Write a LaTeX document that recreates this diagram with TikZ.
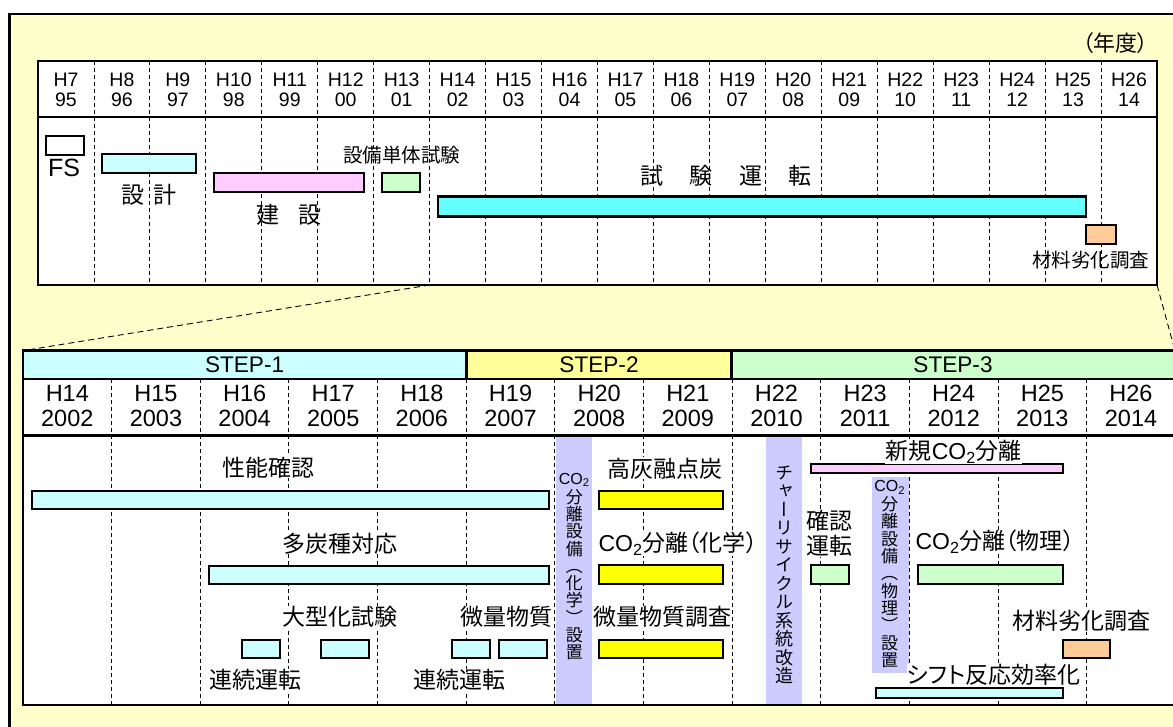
\documentclass[tikz,border=0pt]{standalone}
\usepackage{fontspec}
\setmainfont{Liberation Sans}
\newfontfamily\jp[RawFeature=+palt]{Noto Sans CJK JP}
\newfontfamily\jpv[RawFeature=+vert]{Noto Sans CJK JP}
\usepackage{tikz}
\usetikzlibrary{positioning}
\usepackage{xcolor}
\definecolor{bgyellow}{HTML}{FFFFCC}
\definecolor{cyanlight}{HTML}{CCFFFF}
\definecolor{cyanmid}{HTML}{66FFFF}
\definecolor{pinklight}{HTML}{FFCCFF}
\definecolor{greenlight}{HTML}{CCFFCC}
\definecolor{orangelight}{HTML}{FFCC99}
\definecolor{steptwo}{HTML}{FFFF99}
\definecolor{yellowbar}{HTML}{FFFF00}
\definecolor{bandpurple}{HTML}{CCCCFF}
\newcommand{\COtwo}{{\rmfamily CO\textsubscript{2}}}
\lineskiplimit=-10pt

\begin{document}
\begin{tikzpicture}[x=1pt,y=-1pt,
	frame/.style={line width=2.6pt},
	grid/.style={line width=0.9pt,dash pattern=on 4pt off 3pt},
	zoomline/.style={line width=0.9pt,dash pattern=on 6pt off 4pt},
	bar/.style={draw,line width=2.2pt},
	band/.style={fill=bandpurple},
	uyear/.style={font=\fontsize{19.5}{20}\selectfont,align=center,inner sep=0pt},
	lyear/.style={font=\fontsize{23.5}{25}\selectfont,align=center,inner sep=0pt},
	steplabel/.style={font=\fontsize{22.6}{24}\selectfont,inner sep=0pt},
	ulabel/.style={font=\jp\fontsize{19.5}{22}\selectfont,inner sep=0pt},
	bigword/.style={font=\jp\fontsize{23}{25}\selectfont,inner sep=0pt},
	lbl/.style={font=\jp\fontsize{23}{25.3}\selectfont,fill=white,inner sep=0.5pt,align=center},
	vlbl/.style={font=\jpv\fontsize{17}{17.3}\selectfont,inner sep=0pt,align=center},
	colabel/.style={font=\fontsize{16}{16}\selectfont,inner sep=0pt}]
	\useasboundingbox (0,0) rectangle (1173,727);
	\draw[frame,fill=bgyellow] (9.3,14) rectangle (1200,760);
	\node[font=\jp\fontsize{22}{24}\selectfont,inner sep=0pt] (unit) at (1115.5,43) {（年度）};
	% zoom lines between the two tables
	\coordinate (upcut) at (429.7,285);
	\coordinate (upend) at (1157,285);
	\coordinate (locut) at (23,350.7);
	\coordinate (loend) at (1175,350.7);
	\draw[zoomline] (upcut) -- (locut);
	\draw[zoomline] (upend) -- (loend);
	% upper table
	\fill[white] (38,61) rectangle (1157,285);
	\foreach \i in {1,...,19}
		\draw[grid] ({38+55.95*\i},61) -- ({38+55.95*\i},285);
	\foreach \h/\yy [count=\i from 0] in {7/95,8/96,9/97,10/98,11/99,12/00,13/01,14/02,15/03,16/04,17/05,18/06,19/07,20/08,21/09,22/10,23/11,24/12,25/13,26/14}
		\node[uyear] (uy\i) at ({38+55.95*(\i+0.5)},90) {H\h\\\yy};
	\draw[bar,fill=white] (46,135.7) rectangle (84.3,155);
	\draw[bar,fill=cyanlight] (101.7,154.3) rectangle (196,173.3);
	\draw[bar,fill=pinklight] (214,172.7) rectangle (364,192.3);
	\draw[bar,fill=greenlight] (381.7,172.7) rectangle (420,192.3);
	\draw[bar,fill=cyanmid] (438.3,196.5) rectangle (1086,216.5);
	\draw[bar,fill=orangelight] (1086,225) rectangle (1116.3,244);
	\node[font=\fontsize{25}{25}\selectfont,inner sep=0pt] (fs) at (64,168) {FS};
	\node[bigword] (design) at (149,195) {設\hspace{9.7pt}計};
	\node[bigword] (build) at (289,215) {建\hspace{18.7pt}設};
	\node[ulabel] (unittest) at (401.7,155) {設備単体試験};
	\node[bigword] (testrun) at (726,176) {試\hspace{26.2pt}験\hspace{26.2pt}運\hspace{26.2pt}転};
	\node[ulabel] (upmat) at (1090.5,260) {材料劣化調査};
	\draw[frame] (38,61) rectangle (1157,285);
	\draw[frame] (38,117) -- (1157,117);
	% lower table
	\fill[white] (23,350.7) rectangle (1180,705);
	\fill[cyanlight] (23,350.7) rectangle (466.2,379);
	\fill[steptwo] (466.2,350.7) rectangle (731.7,379);
	\fill[greenlight] (731.7,350.7) rectangle (1180,379);
	\node[steplabel] (step1) at (244.6,365) {STEP-1};
	\node[steplabel] (step2) at (599,365) {STEP-2};
	\node[steplabel] (step3) at (953,365) {STEP-3};
	\foreach \h [count=\j from 0] in {14,...,26}{
		\pgfmathtruncatemacro\yr{\h+1988}
		\node[lyear] (ly\j) at ({23+88.64*(\j+0.5)},405.8) {H\h\\\yr};
	}
	\fill[band] (555.7,436) rectangle (591.7,704);
	\fill[band] (765.7,436) rectangle (801.7,704);
	\fill[band] (872,476.7) rectangle (908.7,673.3);
	\foreach \j in {1,...,12}
		\draw[grid] ({23+88.64*\j},379) -- ({23+88.64*\j},705);
	\begin{scope}[every path/.style={bar}]
		\draw[fill=cyanlight] (31.7,490.7) rectangle (548.7,509.3);
		\draw[fill=cyanlight] (209.3,565.7) rectangle (548.7,584.3);
		\draw[fill=cyanlight] (242.3,639.7) rectangle (280,658.3);
		\draw[fill=cyanlight] (321,639.7) rectangle (369.3,658.3);
		\draw[fill=cyanlight] (451.7,639.7) rectangle (490.3,658.3);
		\draw[fill=cyanlight] (498.7,639.7) rectangle (546.7,658.3);
		\draw[fill=yellowbar] (599,490.7) rectangle (722.7,509.3);
		\draw[fill=yellowbar] (599,565) rectangle (722.7,584);
		\draw[fill=yellowbar] (599,640) rectangle (722.7,658.3);
		\draw[fill=pinklight] (810.7,464.3) rectangle (1063.3,473.3);
		\draw[fill=greenlight] (810.7,565) rectangle (849,584.3);
		\draw[fill=greenlight] (918.3,565) rectangle (1063.3,584.3);
		\draw[fill=orangelight] (1062.7,640) rectangle (1110.3,658.3);
		\draw[fill=cyanlight] (876.3,687.7) rectangle (1063.3,697.7);
	\end{scope}
	\node[lbl] (perf) at (268.7,467.3) {性能確認};
	\node[lbl] (multi) at (340,543.3) {多炭種対応};
	\node[lbl] (scale) at (339.5,616.7) {大型化試験};
	\node[lbl] (cont1) at (255,680) {連続運転};
	\node[lbl] (cont2) at (459,680) {連続運転};
	\node[lbl] (trace) at (506,616.7) {微量物質};
	\node[lbl] (ashcoal) at (664.5,468.3) {高灰融点炭};
	\node[lbl] (chem) at (678,543.3) {\COtwo 分離（化学）};
	\node[lbl] (tracesurvey) at (662.7,616.7) {微量物質調査};
	\node[lbl] (newsep) at (953.8,451.7) {新規\COtwo 分離};
	\node[lbl] (check) at (829,533.3) {確認\\運転};
	\node[lbl] (phys) at (995,542) {\COtwo 分離（物理）};
	\node[lbl] (lomat) at (1081.8,620.7) {材料劣化調査};
	\node[lbl] (shift) at (993.8,675) {シフト反応効率化};
	\node[vlbl] (b1txt) at (574.3,574.7) {分\\離\\設\\備\\︵\\化\\学\\︶\\設\\置};
	\node[colabel,above=2pt of b1txt] (b1co) {CO\textsubscript{2}};
	\node[vlbl,font=\jpv\fontsize{18}{18.5}\selectfont] (b2txt) at (784.7,574.9) {チ\\ャ\\ー\\リ\\サ\\イ\\ク\\ル\\系\\統\\改\\造};
	\node[vlbl] (b3txt) at (889.7,582.2) {分\\離\\設\\備\\︵\\物\\理\\︶\\設\\置};
	\node[colabel,above=2pt of b3txt] (b3co) {CO\textsubscript{2}};
	\draw[frame] (1180,350.7) -- (23,350.7) -- (23,705) -- (1180,705);
	\draw[frame] (23,379) -- (1180,379);
	\draw[frame] (23,435.3) -- (1180,435.3);
	\draw[frame] (466.2,350.7) -- (466.2,379);
	\draw[frame] (731.7,350.7) -- (731.7,379);
\end{tikzpicture}
\end{document}
